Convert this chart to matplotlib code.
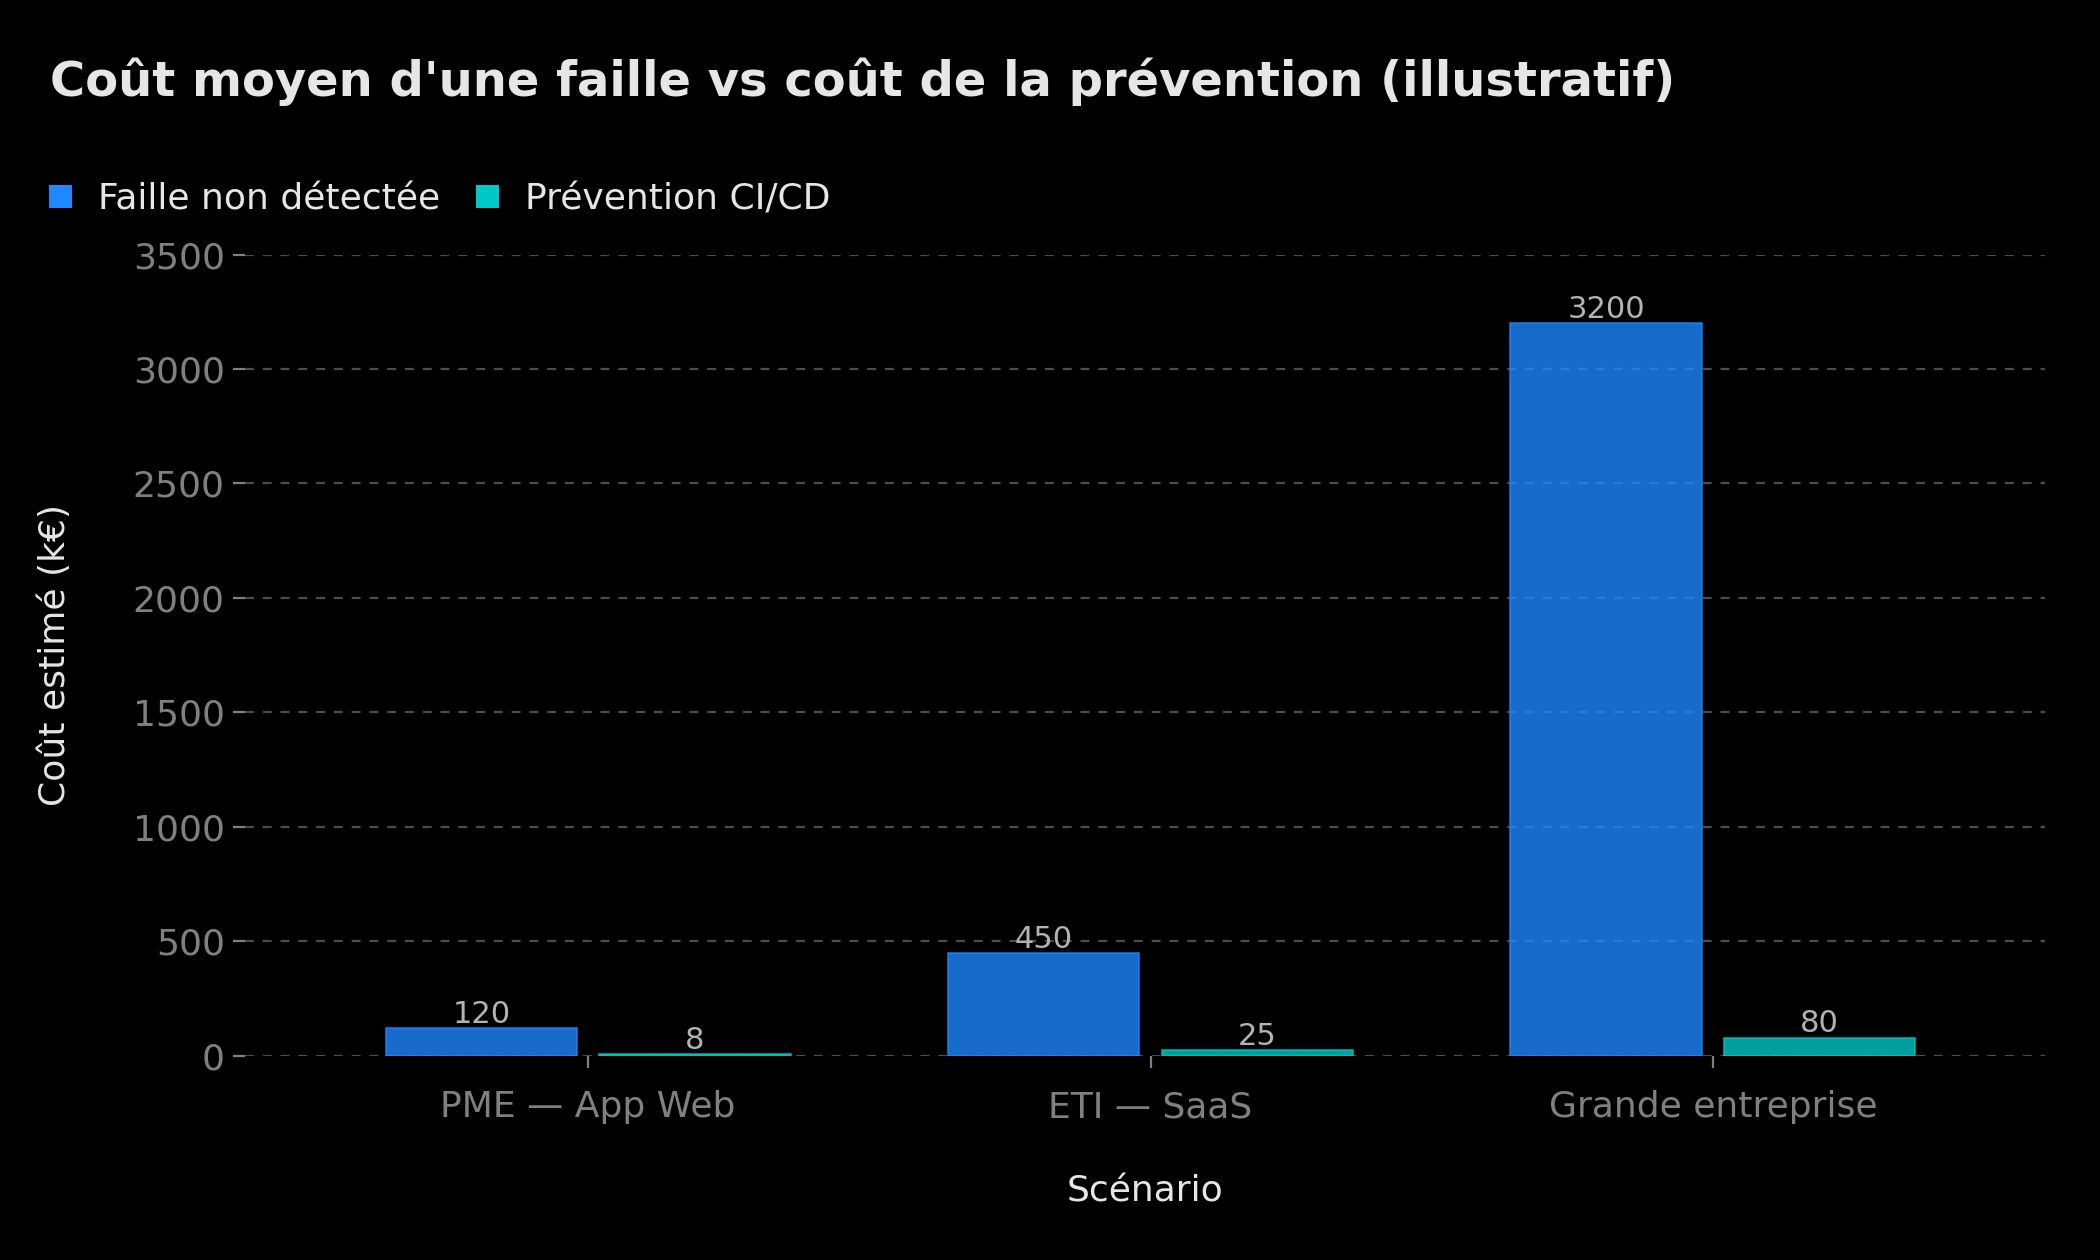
import numpy as np
import matplotlib
matplotlib.use("Agg")
import matplotlib.pyplot as plt
from matplotlib.patches import Patch

# données (k€, illustratif)
scenarios = ["PME — App Web", "ETI — SaaS", "Grande entreprise"]
faille = [120, 450, 3200]
prevention = [8, 25, 80]
series_names = ["Faille non détectée", "Prévention CI/CD"]
yticks = [0, 500, 1000, 1500, 2000, 2500, 3000, 3500]

BLUE = "#1E88FF"
TEAL = "#00C8C8"
BG = "#000000"

plt.rcParams['font.family'] = ['DejaVu Sans']

fig = plt.figure(figsize=(10.5, 6.3), dpi=200, facecolor=BG)
ax = fig.add_axes([0.1167, 0.162, 0.857, 0.636], facecolor=BG)

x = np.arange(len(scenarios))
w = 0.34
off = 0.19

b1 = ax.bar(x - off, faille, w, color=BLUE, alpha=0.8, edgecolor=BLUE, linewidth=0.6, zorder=2)
b2 = ax.bar(x + off, prevention, w, color=TEAL, alpha=0.8, edgecolor=TEAL, linewidth=0.6, zorder=2)

# étiquettes de valeur au-dessus des barres
for bars in (b1, b2):
    for r in bars:
        h = r.get_height()
        ax.annotate(f"{h:g}", (r.get_x() + r.get_width() / 2, h), xytext=(0, -0.3),
                    textcoords="offset points", ha="center", va="bottom",
                    fontsize=11, color="#B3B3B3", zorder=3)

ax.set_xlim(-0.61, 2.59)
ax.set_ylim(0, 3500)
ax.set_yticks(yticks)
ax.set_xticks(x)
ax.set_xticklabels(scenarios)

ax.grid(axis="y", color="#4d4d4d", linestyle=(0, (4, 4)), linewidth=0.8, zorder=0)
ax.set_axisbelow(True)
for s in ax.spines.values():
    s.set_visible(False)

ax.tick_params(axis="both", colors="#808080", labelsize=13, length=4.3, width=0.8)
ax.tick_params(axis="x", pad=8)
ax.tick_params(axis="y", pad=3)

ax.set_xlabel("Scénario", fontsize=13, color="#E6E6E6", labelpad=18)
ax.set_ylabel("Coût estimé (k€)", fontsize=13, color="#E6E6E6", labelpad=22)

fig.text(0.024, 0.935, "Coût moyen d'une faille vs coût de la prévention (illustratif)",
         fontsize=17.3, fontweight="bold", color="#E6E6E6", ha="left", va="center")

handles = [Patch(facecolor=BLUE, edgecolor="none"), Patch(facecolor=TEAL, edgecolor="none")]
fig.legend(handles, series_names, loc="center left", bbox_to_anchor=(0.008, 0.842),
           ncol=2, frameon=False, fontsize=13, labelcolor="#E6E6E6",
           handlelength=0.63, handleheight=0.63, handletextpad=0.72, columnspacing=1.0)

fig.savefig("out.png", dpi=200, facecolor=BG)
